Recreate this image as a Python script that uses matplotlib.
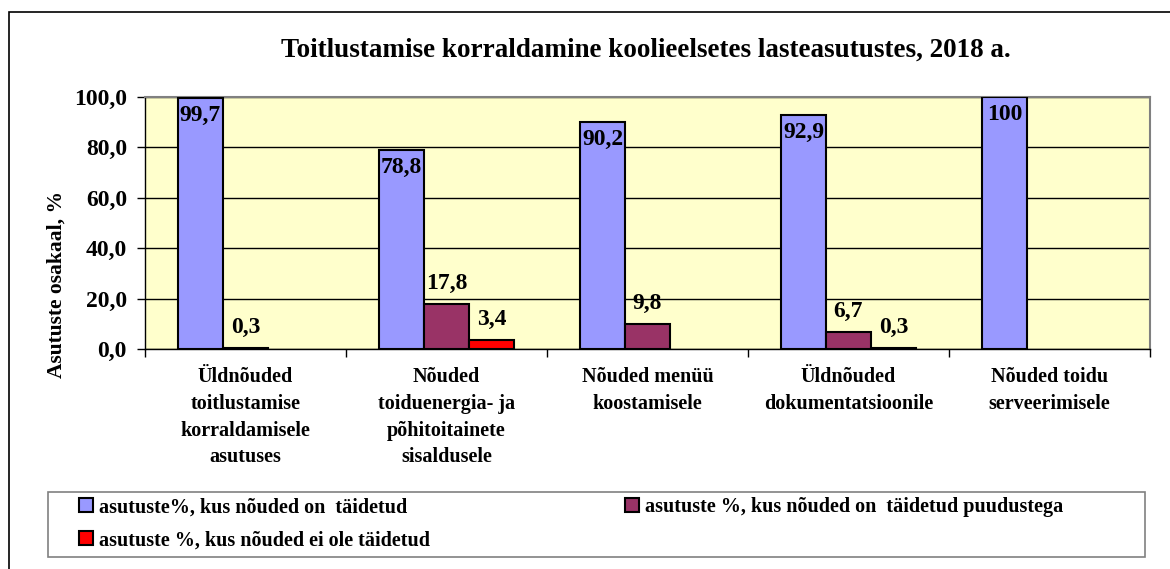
import numpy as np
import matplotlib
matplotlib.use("Agg")
from matplotlib import pyplot as plt
from matplotlib.patches import Rectangle

plt.rcParams['font.family'] = ['Liberation Serif', 'DejaVu Serif']
plt.rcParams['font.weight'] = 'bold'
plt.rcParams['axes.labelweight'] = 'bold'

#%% data
categories = ["Üldnõuded\ntoitlustamise\nkorraldamisele\nasutuses",
              "Nõuded\ntoiduenergia- ja\npõhitoitainete\nsisaldusele",
              "Nõuded menüü\nkoostamisele",
              "Üldnõuded\ndokumentatsioonile",
              "Nõuded toidu\nserveerimisele"]
taidetud = [99.7, 78.8, 90.2, 92.9, 100]
puudustega = [0.3, 17.8, 9.8, 6.7, np.nan]
ei_ole = [np.nan, 3.4, np.nan, 0.3, np.nan]
value_labels = [["99,7", "78,8", "90,2", "92,9", "100"],
                ["0,3", "17,8", "9,8", "6,7", ""],
                ["", "3,4", "", "0,3", ""]]
series_names = ["asutuste%, kus nõuded on  täidetud",
                "asutuste %, kus nõuded on  täidetud puudustega",
                "asutuste %, kus nõuded ei ole täidetud"]
colors = ["#9999FF", "#993366", "#FF0000"]
yticks = [0, 20, 40, 60, 80, 100]

#%% figure
fig = plt.figure(figsize=(11.7, 5.69), dpi=100)
fig.patches.append(Rectangle((9/1170, -0.1), 1.2, 1 - 12/569 + 0.1, transform=fig.transFigure,
                             fill=False, edgecolor='black', linewidth=1.2))
ax = fig.add_axes([145/1170, 1 - 349/569, 1005/1170, 252/569])
ax.set_facecolor("#FFFFCC")

x = np.arange(len(categories))
w = 0.224
series = [taidetud, puudustega, ei_ole]
for i, (vals, col) in enumerate(zip(series, colors)):
    ax.bar(x + (i - 1) * w, vals, w, color=col, edgecolor='black', linewidth=1.5,
           label=series_names[i], zorder=3)
    for xi, v, lab in zip(x, vals, value_labels[i]):
        if not lab or np.isnan(v):
            continue
        if i == 0:
            ax.annotate(lab, (xi + (i - 1) * w, v), xytext=(0, -5), textcoords='offset points',
                        ha='center', va='top', fontsize=17, zorder=4)
        else:
            ax.annotate(lab, (xi + (i - 1) * w, v), xytext=(0, 15), textcoords='offset points',
                        ha='center', va='center', fontsize=17, zorder=4)

ax.set_xlim(-0.5, len(categories) - 0.5)
ax.set_ylim(0, 100)
ax.set_yticks(yticks)
ax.set_yticklabels([f"{t:.1f}".replace(".", ",") for t in yticks], fontsize=17)
ax.yaxis.grid(True, color='black', linewidth=1, zorder=0)
ax.set_axisbelow(True)
ax.set_xticks(x)
ax.set_xticklabels(categories, fontsize=14.5, linespacing=1.45, va='top')
ax.tick_params(axis='x', length=0, pad=13)
ax.set_xticks(np.arange(len(categories) + 1) - 0.5, minor=True)
ax.tick_params(axis='x', which='minor', length=6, width=1, direction='out')
ax.tick_params(axis='y', length=6, width=1, direction='out', pad=7)
ax.set_ylabel("Asutuste osakaal, %", fontsize=15.5)
ax.yaxis.set_label_coords(-0.0776, 0.254)
for s in ['top', 'right']:
    ax.spines[s].set_color('#808080')
    ax.spines[s].set_linewidth(1.5)
for s in ['left', 'bottom']:
    ax.spines[s].set_color('black')
    ax.spines[s].set_linewidth(1)

fig.text(646/1170, 1 - 50/569, "Toitlustamise korraldamine koolieelsetes lasteasutustes, 2018 a.",
         ha='center', va='center', fontsize=19.5)

# legend frame drawn separately, legend itself without frame
fig.patches.append(Rectangle((48/1170, 1 - 557/569), 1097/1170, 65/569, transform=fig.transFigure,
                             fill=False, edgecolor='#808080', linewidth=1.2))
handles, labels = ax.get_legend_handles_labels()
# reorder so that column-wise fill gives: row1 = blue, purple; row2 = red
order = [0, 2, 1]
leg = fig.legend([handles[k] for k in order], [labels[k] for k in order], ncol=2,
                 loc='upper left', bbox_to_anchor=(63/1170, 1 - 481/569),
                 fontsize=14.5, frameon=False,
                 handlelength=0.7, handleheight=0.7, handletextpad=0.3,
                 borderpad=0.3, labelspacing=0.65, columnspacing=9.65)

fig.savefig("out.png", dpi=100)
